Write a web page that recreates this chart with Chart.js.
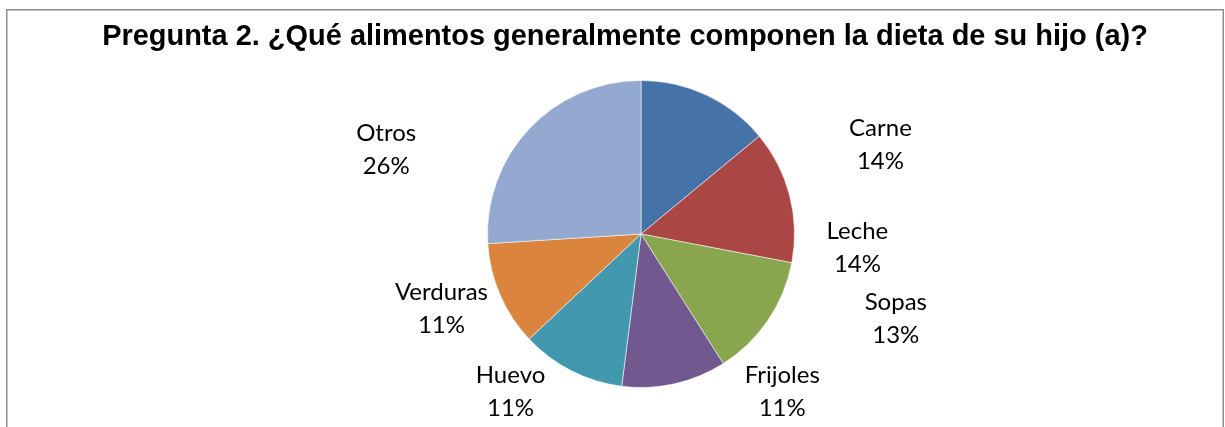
<!DOCTYPE html>
<html>
<head>
<meta charset="utf-8">
<script src="https://cdn.jsdelivr.net/npm/chart.js@4.4.0/dist/chart.umd.min.js"></script>
<style>
  html, body { margin: 0; padding: 0; background: #fff; }
  #wrap { position: relative; width: 1225px; height: 427px; }
</style>
</head>
<body>
<div id="wrap"><canvas id="c"></canvas></div>
<script>
const titleText = "Pregunta 2. ¿Qué alimentos generalmente componen la dieta de su hijo (a)?";
const categories = ["Carne", "Leche", "Sopas", "Frijoles", "Huevo", "Verduras", "Otros"];
const percentages = [14, 14, 13, 11, 11, 11, 26];
const sliceColors = ["#4572A7", "#AA4643", "#89A54E", "#71588F", "#4198AF", "#DB843D", "#93A9CF"];

// label placement (offset of label block centre from pie centre, in radius units)
const labelOffsets = [
  [1.56, -0.58], [1.41, 0.09], [1.66, 0.55], [0.92, 1.03],
  [-0.85, 1.03], [-1.30, 0.49], [-1.66, -0.55]
];

const frameAndLabels = {
  id: 'frameAndLabels',
  afterDraw(chart) {
    const ctx = chart.ctx;
    ctx.save();
    // outer frame
    ctx.strokeStyle = '#8c8c8c';
    ctx.lineWidth = 1.5;
    ctx.strokeRect(6.75, 9.75, 1216.5, 460);
    // title (sized to span the same width as the original)
    ctx.fillStyle = '#000';
    ctx.font = 'bold 24px "Liberation Sans", Arial, sans-serif';
    const w24 = ctx.measureText(titleText).width;
    const size = 24 * 1046 / w24;
    ctx.font = 'bold ' + size.toFixed(2) + 'px "Liberation Sans", Arial, sans-serif';
    ctx.textAlign = 'center';
    ctx.textBaseline = 'middle';
    ctx.fillText(titleText, 625, 37);
    // data labels
    const arc = chart.getDatasetMeta(0).data[0];
    const cx = arc.x, cy = arc.y, r = arc.outerRadius;
    ctx.font = '24px Lato, "Open Sans", sans-serif';
    categories.forEach((name, i) => {
      const x = cx + labelOffsets[i][0] * r;
      const y = cy + labelOffsets[i][1] * r;
      ctx.fillText(name, x, y - 16.5);
      ctx.fillText(percentages[i] + '%', x, y + 16.5);
    });
    ctx.restore();
  }
};

new Chart(document.getElementById('c'), {
  type: 'pie',
  data: {
    labels: categories,
    datasets: [{
      data: percentages,
      backgroundColor: sliceColors,
      borderColor: 'rgba(255,255,255,0.55)',
      borderWidth: 1
    }]
  },
  options: {
    responsive: true,
    maintainAspectRatio: false,
    animation: false,
    layout: { padding: { top: 80, bottom: 39, left: 141, right: 84 } },
    plugins: {
      legend: { display: false },
      tooltip: { enabled: false },
      title: { display: false }
    }
  },
  plugins: [frameAndLabels]
});
</script>
</body>
</html>
